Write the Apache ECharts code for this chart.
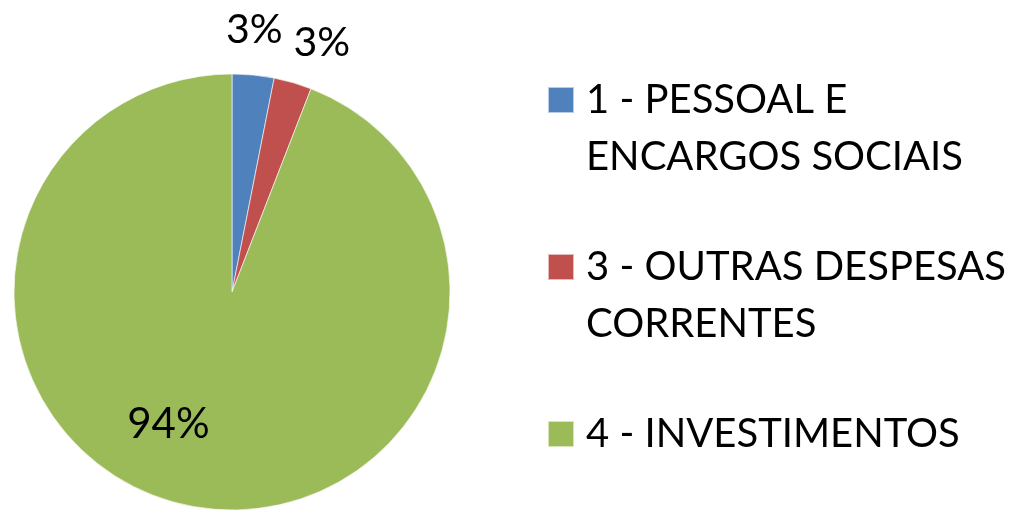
<!DOCTYPE html>
<html>
<head>
<meta charset="utf-8">
<script src="https://cdn.jsdelivr.net/npm/echarts@6/dist/echarts.min.js"></script>
<style>
html,body{margin:0;padding:0;background:#fff;}
#chart{width:1016px;height:511px;}
</style>
</head>
<body>
<div id="chart"></div>
<script>
// Data
const categories = ['1 - PESSOAL E\nENCARGOS SOCIAIS', '3 - OUTRAS DESPESAS\nCORRENTES', '4 - INVESTIMENTOS'];
const values = [3.1, 2.8, 94.1];
const colors = ['#4F81BD', '#C0504D', '#9BBB59'];

const LINE_H = 57;
const PIE_R = 218;
const center = [232, 292];

const pieData = categories.map((name, i) => ({ name: name, value: values[i] }));

// Pad every legend label to 3 lines so that the first real line sits on the icon
const legendFormatter = name => {
  const lines = name.split('\n');
  return ' \n' + name + (lines.length === 1 ? '\n ' : '');
};

const pct = p => Math.round(p.percent) + '%';

// small nudges of the outside labels (Excel "best fit" spacing)
const outsideLabelNudge = [[-3, -2], [17, 1], [0, 0]];

const chart = echarts.init(document.getElementById('chart'), null, { renderer: 'canvas' });
chart.setOption({
  animation: false,
  backgroundColor: '#ffffff',
  color: colors,
  legend: {
    orient: 'vertical',
    left: 547,
    top: 14.5,
    height: 700,
    padding: 0,
    itemGap: -4,
    itemWidth: 26,
    itemHeight: 26,
    icon: 'rect',
    data: categories,
    formatter: legendFormatter,
    textStyle: {
      fontFamily: 'Lato',
      fontSize: 40,
      lineHeight: LINE_H,
      color: '#000',
      padding: [0, 0, 0, 7]
    }
  },
  series: [
    {
      type: 'pie',
      center: center,
      radius: [0, PIE_R],
      startAngle: 90,
      clockwise: true,
      avoidLabelOverlap: false,
      silent: true,
      itemStyle: { borderColor: 'rgba(255,255,255,0.6)', borderWidth: 1 },
      label: {
        show: true,
        position: 'inside',
        offset: [-43, 22],
        fontFamily: 'Lato',
        fontSize: 42,
        color: '#000',
        formatter: p => (p.percent > 50 ? pct(p) : '')
      },
      labelLine: { show: false },
      data: pieData
    },
    {
      type: 'pie',
      center: center,
      radius: [PIE_R + 10, PIE_R + 70],
      startAngle: 90,
      clockwise: true,
      avoidLabelOverlap: false,
      silent: true,
      legendHoverLink: false,
      itemStyle: { color: 'rgba(0,0,0,0)' },
      label: {
        show: true,
        position: 'inside',
        fontFamily: 'Lato',
        fontSize: 41,
        color: '#000',
        formatter: p => (p.percent > 50 ? '' : pct(p))
      },
      labelLayout: params => ({
        hideOverlap: false,
        dx: outsideLabelNudge[params.dataIndex][0],
        dy: outsideLabelNudge[params.dataIndex][1]
      }),
      labelLine: { show: false },
      data: pieData
    }
  ]
});
</script>
</body>
</html>
